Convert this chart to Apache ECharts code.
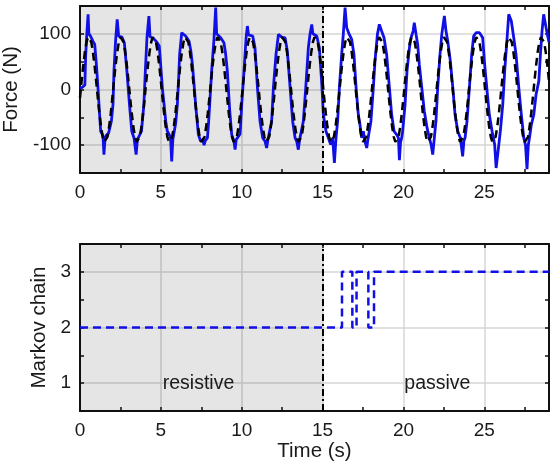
<!DOCTYPE html>
<html>
<head>
<meta charset="utf-8">
<script src="https://cdn.jsdelivr.net/npm/echarts@6/dist/echarts.min.js"></script>
<style>
html,body{margin:0;padding:0;background:#fff;}
#chart{width:559px;height:472px;}
</style>
</head>
<body>
<div id="chart"></div>
<script>
// ---------- data ----------
const forceT = [0.00,0.15,0.30,0.35,0.42,0.50,0.55,0.65,0.80,0.91,1.00,1.11,1.20,1.28,1.42,1.48,1.55,1.63,1.77,1.94,
  2.04,2.10,2.20,2.30,2.39,2.60,2.74,2.90,3.06,3.20,3.34,3.47,3.55,3.60,3.80,3.95,4.04,4.14,4.26,4.33,
  4.40,4.60,4.75,4.90,5.00,5.10,5.20,5.30,5.40,5.50,5.60,5.67,5.74,5.81,5.92,6.02,6.10,6.16,6.29,6.37,
  6.53,6.74,6.85,6.95,7.05,7.15,7.32,7.46,7.60,7.67,7.75,7.88,7.95,8.02,8.14,8.29,8.39,8.45,8.49,8.70,
  8.90,9.00,9.11,9.26,9.38,9.52,9.59,9.66,9.73,9.90,10.00,10.14,10.27,10.35,10.42,10.51,10.68,10.82,10.97,11.13,
  11.30,11.44,11.54,11.62,11.71,11.85,11.96,12.12,12.27,12.37,12.53,12.68,12.82,12.99,13.15,13.30,13.40,13.50,13.58,13.65,
  13.81,13.96,14.12,14.22,14.33,14.40,14.47,14.64,14.80,14.95,15.05,15.21,15.36,15.50,15.62,15.73,15.83,15.93,16.04,16.18,
  16.28,16.39,16.49,16.65,16.80,16.94,17.07,17.21,17.31,17.42,17.52,17.62,17.73,17.80,17.89,17.99,18.14,18.24,18.39,18.51,
  18.65,18.80,18.96,19.13,19.27,19.42,19.58,19.69,19.75,19.82,19.89,19.95,20.10,20.22,20.37,20.47,20.60,20.67,20.78,20.88,
  20.98,21.13,21.29,21.46,21.60,21.71,21.81,21.91,22.01,22.12,22.26,22.37,22.53,22.63,22.74,22.90,23.05,23.19,23.36,23.52,
  23.66,23.74,23.81,23.93,24.08,24.22,24.34,24.49,24.70,24.90,25.02,25.17,25.31,25.48,25.64,25.73,25.85,25.99,26.14,26.26,
  26.41,26.51,26.67,26.82,26.96,27.13,27.29,27.44,27.55,27.64,27.72,27.79,27.91,28.06,28.20,28.37,28.47,28.57,28.67,28.82,
  28.94,29.00];
const forceV = [3,4,8,60,100,135,100,96,87,81,50,4,-40,-75,-83,-117,-88,-82,-78,-57,
  -27,33,87,126,96,94,84,33,-27,-75,-87,-117,-90,-87,-75,-27,33,93,132,95,
  93,90,85,78,40,0,-27,-57,-75,-80,-87,-129,-90,-87,-60,-27,20,63,102,105,
  96,87,70,45,10,-27,-81,-93,-90,-100,-92,-87,-60,-27,33,93,147,100,99,93,
  84,65,33,-39,-81,-93,-108,-90,-87,-80,-27,33,93,114,98,96,96,75,4,-57,
  -87,-93,-105,-90,-87,-57,4,63,99,102,93,93,69,4,-57,-87,-93,-108,-90,-87,
  -57,4,75,99,117,100,99,96,75,10,-45,-75,-87,-99,-87,-132,-87,-57,4,63,
  99,147,111,99,90,63,4,-45,-63,-87,-75,-93,-105,-90,-87,-57,4,51,99,117,
  105,93,63,4,-45,-75,-81,-87,-127,-95,-87,-75,-27,33,75,93,105,120,99,81,
  45,4,-39,-69,-87,-99,-117,-87,-57,4,63,99,132,105,87,51,4,-45,-75,-87,
  -120,-92,-87,-57,4,63,96,102,102,93,45,-2,-45,-75,-99,-141,-111,-75,-27,33,
  93,135,123,93,63,4,-45,-87,-100,-143,-100,-87,-63,-45,-9,15,63,105,135,111,
  93,85];

// reference (desired) force, sampled every refStep seconds from t = 0
const refStep = 0.1;
const refV = [
  -15,15,43,67,85,94,94,85,67,43,15,-15,-43,-67,-85,-94,-94,-85,-67,-43,
  -15,15,43,67,85,94,94,85,67,43,15,-15,-43,-67,-85,-94,-94,-85,-67,-43,
  -15,15,43,67,85,94,94,85,67,43,15,-15,-43,-67,-85,-94,-94,-85,-67,-43,
  -15,15,43,67,85,94,94,85,67,43,15,-15,-43,-67,-85,-94,-94,-85,-67,-43,
  -15,15,43,67,85,94,94,85,67,43,15,-15,-43,-67,-85,-94,-94,-85,-67,-43,
  -15,15,43,67,85,94,94,85,67,43,15,-15,-43,-67,-85,-94,-94,-85,-67,-43,
  -15,15,43,67,85,94,94,85,67,43,15,-15,-43,-67,-85,-94,-94,-85,-67,-43,
  -15,15,43,67,85,94,94,85,67,43,15,-15,-43,-67,-85,-94,-94,-85,-67,-43,
  -15,15,43,67,85,94,94,85,67,43,15,-15,-43,-67,-85,-94,-94,-85,-67,-43,
  -15,15,43,67,85,94,94,85,67,43,15,-15,-43,-67,-85,-94,-94,-85,-67,-43,
  -15,15,43,67,85,94,94,85,67,43,15,-15,-43,-67,-85,-94,-94,-85,-67,-43,
  -15,15,43,67,85,94,94,85,67,43,15,-15,-43,-67,-85,-94,-94,-85,-67,-43,
  -15,15,43,67,85,94,94,85,67,43,15,-15,-43,-67,-85,-94,-94,-85,-67,-43,
  -15,15,43,67,85,94,94,85,67,43,15,-15,-43,-67,-85,-94,-94,-85,-67,-43,
  -15,15,43,67,85,94,94,85,67,43,15];

const markovT = [0,16.2,16.2,16.84,16.84,17.1,17.1,17.83,17.83,18.18,18.18,29];
const markovV = [2,2,3,3,2,2,3,3,2,2,3,3];

const xTickLabels = [0,5,10,15,20,25];
const forceTickLabels = [-100,0,100];
const markovTickLabels = [1,2,3];
const phaseNames = ['resistive','passive'];
const phaseX = [7.33,22.1];
const phaseY = [1,1];
const switchTime = 15;
const timeMax = 29;

// ---------- chart ----------
const FONT = "'Liberation Sans', Arial, Helvetica, sans-serif";
const GRID_C = '#d6d6d6';
const AX_C = '#111';
const TXT_C = '#1a1a1a';
const BLUE = '#1010e6';

function pairs(xs, ys){ return xs.map((x,i)=>[x, ys[i]]); }
const refData = refV.map((v,i)=>[+(i*refStep).toFixed(2), v]);

function xAx(grid, pos, labels){
  return {
    type:'value', gridIndex:grid, position:pos, min:0, max:timeMax, interval:2.5,
    axisLine:{show:true, onZero:false, lineStyle:{color:AX_C, width:2}},
    axisTick:{show:true, inside:true, length:4, lineStyle:{color:AX_C, width:1.5}},
    axisLabel:{show:labels, showMaxLabel:false, margin:10, fontSize:19, color:TXT_C, fontFamily:FONT,
      formatter:v=> xTickLabels.indexOf(v)>=0 ? String(v) : ''},
    splitLine:{show:labels, lineStyle:{color:[GRID_C,'rgba(0,0,0,0)'], width:1.5}},
    name: (grid===1 && labels) ? 'Time (s)' : '',
    nameLocation:'middle', nameGap:29,
    nameTextStyle:{fontSize:20.5, color:TXT_C, fontFamily:FONT}
  };
}
function yAx(grid, pos, labels, min, max, interval, ticks, name, gap){
  return {
    type:'value', gridIndex:grid, position:pos, min:min, max:max, interval:interval,
    axisLine:{show:true, onZero:false, lineStyle:{color:AX_C, width:2}},
    axisTick:{show:true, inside:true, length:4, lineStyle:{color:AX_C, width:1.5}},
    axisLabel:{show:labels, margin:9, fontSize:19, color:TXT_C, fontFamily:FONT,
      formatter:v=> ticks.indexOf(v)>=0 ? String(v) : ''},
    splitLine:{show:labels, lineStyle:{color:['rgba(0,0,0,0)',GRID_C], width:1.5}},
    name: labels ? name : '', nameLocation:'middle', nameGap:gap,
    nameTextStyle:{fontSize:20.5, color:TXT_C, fontFamily:FONT}
  };
}

const shade = {silent:true, itemStyle:{color:'rgba(0,0,0,0.1)'}, data:[[{xAxis:0},{xAxis:switchTime}]]};
const vline = {silent:true, symbol:['none','none'], label:{show:false},
  lineStyle:{color:'#000', width:2, type:[7,3,2,3]}, data:[{xAxis:switchTime}]};

const chart = echarts.init(document.getElementById('chart'), null, {renderer:'canvas'});
chart.setOption({
  animation:false,
  textStyle:{fontFamily:FONT},
  grid:[
    {left:80, top:6, width:469, height:167, containLabel:false, outerBoundsMode:'none'},
    {left:80, top:244, width:469, height:167, containLabel:false, outerBoundsMode:'none'}
  ],
  xAxis:[ xAx(0,'bottom',true), xAx(0,'top',false), xAx(1,'bottom',true), xAx(1,'top',false) ],
  yAxis:[
    yAx(0,'left',true,-150,150,50,forceTickLabels,'Force (N)',56),
    yAx(0,'right',false,-150,150,50,forceTickLabels,'',0),
    yAx(1,'left',true,0.5,3.5,0.5,markovTickLabels,'Markov chain',23),
    yAx(1,'right',false,0.5,3.5,0.5,markovTickLabels,'',0)
  ],
  series:[
    {type:'line', xAxisIndex:0, yAxisIndex:0, data:[], markArea:shade, markLine:vline, z:1},
    {type:'line', xAxisIndex:0, yAxisIndex:0, data:pairs(forceT, forceV), showSymbol:false,
      lineStyle:{color:BLUE, width:2.8}, z:3},
    {type:'line', xAxisIndex:0, yAxisIndex:0, data:refData, showSymbol:false,
      lineStyle:{color:'#000', width:2.5, type:[8,5]}, z:4},
    {type:'line', xAxisIndex:2, yAxisIndex:2, data:[], markArea:shade, markLine:vline, z:1},
    {type:'line', xAxisIndex:2, yAxisIndex:2, data:pairs(markovT, markovV), showSymbol:false,
      lineStyle:{color:BLUE, width:2.5, type:[8,5]}, z:3},
    {type:'scatter', xAxisIndex:2, yAxisIndex:2, symbolSize:1,
      itemStyle:{color:'rgba(0,0,0,0)', opacity:1},
      data: phaseNames.map((n,i)=>[phaseX[i], phaseY[i], n]),
      label:{show:true, position:'inside', formatter:p=>p.data[2], fontSize:19.5, color:TXT_C, fontFamily:FONT, opacity:1}, z:5}
  ]
});
</script>
</body>
</html>
